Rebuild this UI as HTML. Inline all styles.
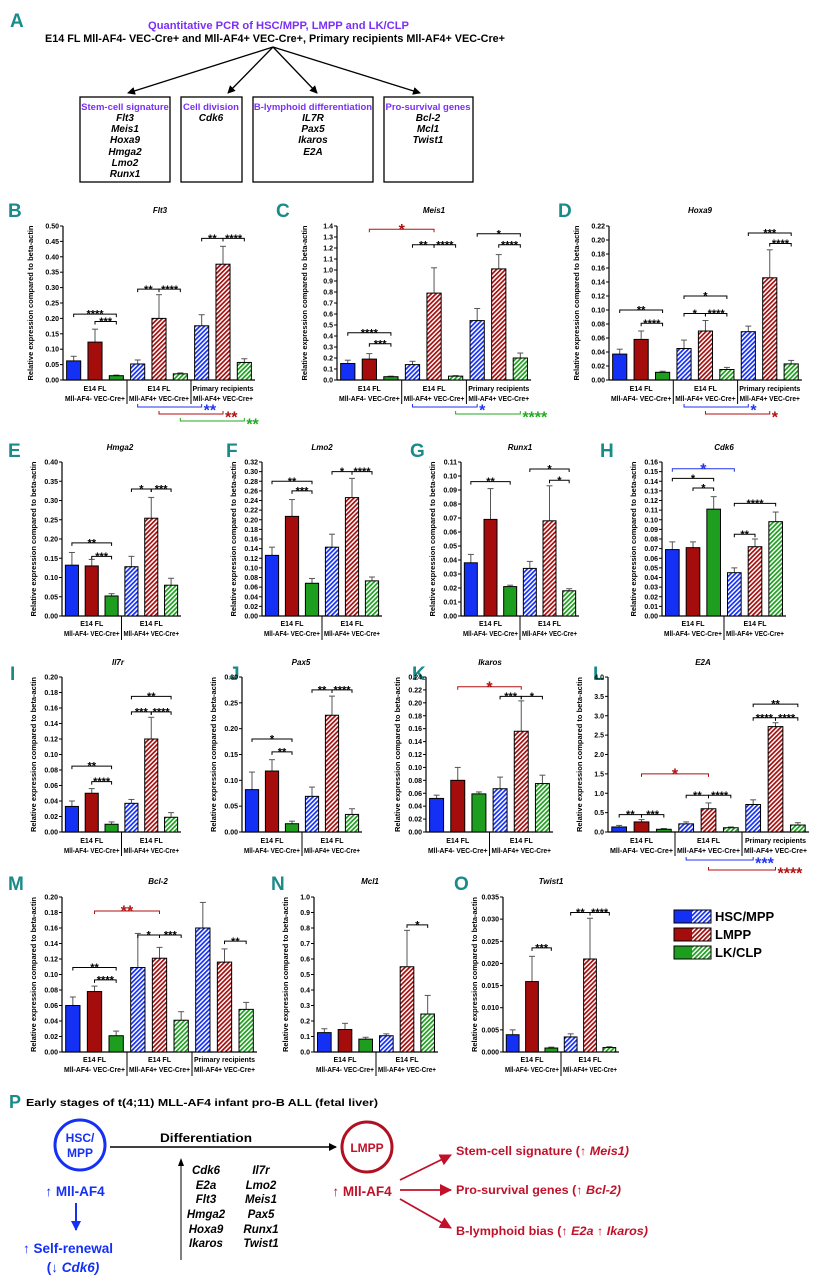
<!DOCTYPE html>
<html><head><meta charset="utf-8"><title>Mll-AF4 qPCR figure</title>
<style>
html,body{margin:0;padding:0;background:#fff;}
svg{display:block;font-family:"Liberation Sans Narrow","Liberation Sans",sans-serif;}
</style></head>
<body>
<svg id="fig" width="822" height="1280" viewBox="0 0 822 1280">
<defs>
<pattern id="hb" width="3.2" height="3.2" patternUnits="userSpaceOnUse" patternTransform="rotate(45)"><rect width="3.2" height="3.2" fill="#fff"/><rect width="1.7" height="3.2" fill="#1530f5"/></pattern>
<pattern id="hr" width="3.2" height="3.2" patternUnits="userSpaceOnUse" patternTransform="rotate(45)"><rect width="3.2" height="3.2" fill="#fff"/><rect width="1.7" height="3.2" fill="#a50d0d"/></pattern>
<pattern id="hg" width="3.2" height="3.2" patternUnits="userSpaceOnUse" patternTransform="rotate(45)"><rect width="3.2" height="3.2" fill="#fff"/><rect width="1.7" height="3.2" fill="#1e9e1e"/></pattern>
<marker id="ak" markerWidth="8" markerHeight="8" refX="7" refY="4" orient="auto" markerUnits="userSpaceOnUse"><path d="M0,0 L8,4 L0,8 z" fill="#000"/></marker>
<marker id="ab" markerWidth="10" markerHeight="10" refX="9" refY="5" orient="auto" markerUnits="userSpaceOnUse"><path d="M0,0 L10,5 L0,10 z" fill="#1530f5"/></marker>
<marker id="ar" markerWidth="12" markerHeight="12" refX="11" refY="6" orient="auto" markerUnits="userSpaceOnUse"><path d="M0,0 L12,6 L0,12 z" fill="#c0102a"/></marker>
</defs>

<!-- Panel A -->
<g font-weight="bold">
<text x="10" y="27" font-size="19" fill="#1a8a8a">A</text>
<text x="148" y="29" font-size="11" fill="#7b2ff7" textLength="261" lengthAdjust="spacingAndGlyphs">Quantitative PCR of HSC/MPP, LMPP and LK/CLP</text>
<text x="45" y="42" font-size="11" fill="#000" textLength="460" lengthAdjust="spacingAndGlyphs">E14 FL Mll-AF4- VEC-Cre+ and Mll-AF4+ VEC-Cre+, Primary recipients Mll-AF4+ VEC-Cre+</text>
<g stroke="#000" stroke-width="1.3">
<line x1="273" y1="47" x2="128" y2="93" marker-end="url(#ak)"/>
<line x1="273" y1="47" x2="228" y2="93" marker-end="url(#ak)"/>
<line x1="273" y1="47" x2="317" y2="93" marker-end="url(#ak)"/>
<line x1="273" y1="47" x2="420" y2="93" marker-end="url(#ak)"/>
</g>
<g fill="none" stroke="#000" stroke-width="1.3">
<rect x="80" y="97" width="90" height="85"/>
<rect x="181" y="97" width="61" height="85"/>
<rect x="253" y="97" width="120" height="85"/>
<rect x="384" y="97" width="89" height="85"/>
</g>
<g font-size="9.5" text-anchor="middle">
<text x="125" y="110" fill="#7b2ff7">Stem-cell signature</text>
<text x="211" y="110" fill="#7b2ff7">Cell division</text>
<text x="313" y="110" fill="#7b2ff7">B-lymphoid differentiation</text>
<text x="428" y="110" fill="#7b2ff7">Pro-survival genes</text>
<g font-style="italic" font-size="10">
<text x="125" y="121">Flt3</text><text x="125" y="132">Meis1</text><text x="125" y="143">Hoxa9</text><text x="125" y="155">Hmga2</text><text x="125" y="166">Lmo2</text><text x="125" y="177">Runx1</text>
<text x="211" y="121">Cdk6</text>
<text x="313" y="121">IL7R</text><text x="313" y="132">Pax5</text><text x="313" y="143">Ikaros</text><text x="313" y="155">E2A</text>
<text x="428" y="121">Bcl-2</text><text x="428" y="132">Mcl1</text><text x="428" y="143">Twist1</text>
</g></g>
</g>

<!-- Legend -->
<g font-weight="bold" font-size="13">
<g><rect x="674" y="910" width="18" height="13" fill="#1530f5"/><rect x="692" y="910" width="19" height="13" fill="url(#hb)"/><rect x="674" y="910" width="37" height="13" fill="none" stroke="#000"/><text x="715" y="921">HSC/MPP</text></g>
<g><rect x="674" y="928" width="18" height="13" fill="#a50d0d"/><rect x="692" y="928" width="19" height="13" fill="url(#hr)"/><rect x="674" y="928" width="37" height="13" fill="none" stroke="#000"/><text x="715" y="939">LMPP</text></g>
<g><rect x="674" y="946" width="18" height="13" fill="#1e9e1e"/><rect x="692" y="946" width="19" height="13" fill="url(#hg)"/><rect x="674" y="946" width="37" height="13" fill="none" stroke="#000"/><text x="715" y="957">LK/CLP</text></g>
</g>

<!-- Panel P -->
<g font-weight="bold">
<text x="9" y="1108" font-size="18" fill="#1a8a8a">P</text>
<text x="26" y="1106" font-size="10.5" textLength="352" lengthAdjust="spacingAndGlyphs">Early stages of t(4;11) MLL-AF4 infant pro-B ALL (fetal liver)</text>
<circle cx="80" cy="1145" r="25" fill="none" stroke="#1530f5" stroke-width="3"/>
<text x="80" y="1142" font-size="12" fill="#1530f5" text-anchor="middle">HSC/</text>
<text x="80" y="1157" font-size="12" fill="#1530f5" text-anchor="middle">MPP</text>
<line x1="110" y1="1147" x2="336" y2="1147" stroke="#000" stroke-width="1.5" marker-end="url(#ak)"/>
<text x="160" y="1142" font-size="12" textLength="92" lengthAdjust="spacingAndGlyphs">Differentiation</text>
<g>
<line x1="181" y1="1260" x2="181" y2="1164" stroke="#000" stroke-width="1"/>
<path d="M178,1166 L181,1158 L184,1166 z" fill="#000"/>
</g>
<g font-size="11.5" font-style="italic" text-anchor="middle">
<text x="206" y="1174">Cdk6</text><text x="206" y="1189">E2a</text><text x="206" y="1203">Flt3</text><text x="206" y="1218">Hmga2</text><text x="206" y="1233">Hoxa9</text><text x="206" y="1247">Ikaros</text>
<text x="261" y="1174">Il7r</text><text x="261" y="1189">Lmo2</text><text x="261" y="1203">Meis1</text><text x="261" y="1218">Pax5</text><text x="261" y="1233">Runx1</text><text x="261" y="1247">Twist1</text>
</g>
<circle cx="367" cy="1147" r="25" fill="none" stroke="#b01020" stroke-width="3"/>
<text x="367" y="1152" font-size="12" fill="#c0102a" text-anchor="middle">LMPP</text>
<text x="75" y="1196" font-size="13.5" fill="#1530f5" text-anchor="middle">↑ Mll-AF4</text>
<line x1="76" y1="1203" x2="76" y2="1230" stroke="#1530f5" stroke-width="2" marker-end="url(#ab)"/>
<text x="68" y="1253" font-size="13.5" fill="#1530f5" text-anchor="middle">↑ Self-renewal</text>
<text x="73" y="1272" font-size="13.5" fill="#1530f5" text-anchor="middle">(↓ <tspan font-style="italic">Cdk6)</tspan></text>
<text x="362" y="1196" font-size="13.5" fill="#c0102a" text-anchor="middle">↑ Mll-AF4</text>
<g stroke="#c0102a" stroke-width="1.8">
<line x1="400" y1="1180" x2="451" y2="1155" marker-end="url(#ar)"/>
<line x1="400" y1="1190" x2="451" y2="1190" marker-end="url(#ar)"/>
<line x1="400" y1="1199" x2="451" y2="1228" marker-end="url(#ar)"/>
</g>
<g font-size="12" fill="#c0102a">
<text x="456" y="1155" textLength="173" lengthAdjust="spacingAndGlyphs">Stem-cell signature (↑ <tspan font-style="italic">Meis1)</tspan></text>
<text x="456" y="1194" textLength="165" lengthAdjust="spacingAndGlyphs">Pro-survival genes (↑ <tspan font-style="italic">Bcl-2)</tspan></text>
<text x="456" y="1235" textLength="192" lengthAdjust="spacingAndGlyphs">B-lymphoid bias (↑ <tspan font-style="italic">E2a</tspan> ↑ <tspan font-style="italic">Ikaros)</tspan></text>
</g>
</g>
</svg>

<script>
// ---- group labels ----
const groupLine1 = ['E14 FL', 'E14 FL', 'Primary recipients'];
const groupLine2 = ['Mll-AF4- VEC-Cre+', 'Mll-AF4+ VEC-Cre+', 'Mll-AF4+ VEC-Cre+'];
const cellTypes = ['HSC/MPP', 'LMPP', 'LK/CLP'];

// ---- data: [bars g1 HSC,LMPP,LK, g2 ..., g3 ...] ----
const flt3Values = [0.062, 0.123, 0.014, 0.052, 0.200, 0.020, 0.176, 0.376, 0.057];
const flt3Errors = [0.015, 0.042, 0.002, 0.013, 0.077, 0.003, 0.036, 0.058, 0.012];
const flt3Sig = [[0, 2, 0.214, '****', 'k'], [1, 2, 0.19, '***', 'k'], [3, 4, 0.295, '**', 'k'], [4, 5, 0.295, '****', 'k'], [6, 7, 0.46, '**', 'k'], [7, 8, 0.46, '****', 'k']];
const flt3Bottom = [[3, 6, 0, '**', 'b'], [4, 7, 1, '**', 'r'], [5, 8, 2, '**', 'g']];

const meis1Values = [0.15, 0.19, 0.03, 0.14, 0.79, 0.035, 0.54, 1.01, 0.20];
const meis1Errors = [0.03, 0.05, 0.005, 0.03, 0.23, 0.005, 0.11, 0.13, 0.045];
const meis1Sig = [[1, 4, 1.37, '*', 'r'], [0, 2, 0.43, '****', 'k'], [1, 2, 0.33, '***', 'k'], [3, 4, 1.23, '**', 'k'], [4, 5, 1.23, '****', 'k'], [6, 8, 1.33, '*', 'k'], [7, 8, 1.23, '****', 'k']];
const meis1Bottom = [[3, 6, 0, '*', 'b'], [5, 8, 1, '****', 'g']];

const hoxa9Values = [0.037, 0.058, 0.011, 0.045, 0.070, 0.015, 0.069, 0.146, 0.023];
const hoxa9Errors = [0.007, 0.012, 0.0015, 0.012, 0.015, 0.003, 0.008, 0.04, 0.005];
const hoxa9Sig = [[0, 2, 0.10, '**', 'k'], [1, 2, 0.081, '****', 'k'], [3, 5, 0.12, '*', 'k'], [3, 4, 0.095, '*', 'k'], [4, 5, 0.095, '****', 'k'], [6, 8, 0.21, '***', 'k'], [7, 8, 0.195, '****', 'k']];
const hoxa9Bottom = [[3, 6, 0, '*', 'b'], [4, 7, 1, '*', 'r']];

const hmga2Values = [0.132, 0.130, 0.052, 0.128, 0.254, 0.080];
const hmga2Errors = [0.033, 0.017, 0.006, 0.027, 0.054, 0.018];
const hmga2Sig = [[0, 2, 0.19, '**', 'k'], [1, 2, 0.155, '***', 'k'], [3, 4, 0.33, '*', 'k'], [4, 5, 0.33, '***', 'k']];

const lmo2Values = [0.126, 0.207, 0.068, 0.143, 0.246, 0.073];
const lmo2Errors = [0.017, 0.035, 0.010, 0.027, 0.040, 0.008];
const lmo2Sig = [[0, 2, 0.28, '**', 'k'], [1, 2, 0.26, '***', 'k'], [3, 4, 0.30, '*', 'k'], [4, 5, 0.30, '****', 'k']];

const runx1Values = [0.038, 0.069, 0.021, 0.034, 0.068, 0.018];
const runx1Errors = [0.006, 0.022, 0.001, 0.005, 0.025, 0.0015];
const runx1Sig = [[0, 2, 0.096, '**', 'k'], [3, 5, 0.105, '*', 'k'], [4, 5, 0.097, '*', 'k']];

const cdk6Values = [0.069, 0.071, 0.111, 0.045, 0.072, 0.098];
const cdk6Errors = [0.008, 0.006, 0.013, 0.005, 0.008, 0.010];
const cdk6Sig = [[0, 3, 0.153, '*', 'b'], [0, 2, 0.143, '*', 'k'], [1, 2, 0.133, '*', 'k'], [3, 5, 0.117, '****', 'k'], [3, 4, 0.085, '**', 'k']];

const il7rValues = [0.033, 0.050, 0.010, 0.037, 0.120, 0.019];
const il7rErrors = [0.007, 0.006, 0.003, 0.005, 0.028, 0.006];
const il7rSig = [[0, 2, 0.085, '**', 'k'], [1, 2, 0.065, '****', 'k'], [3, 5, 0.175, '**', 'k'], [3, 4, 0.155, '***', 'k'], [4, 5, 0.155, '****', 'k']];

const pax5Values = [0.082, 0.118, 0.016, 0.069, 0.226, 0.034];
const pax5Errors = [0.034, 0.022, 0.005, 0.018, 0.037, 0.011];
const pax5Sig = [[0, 2, 0.18, '*', 'k'], [1, 2, 0.155, '**', 'k'], [3, 4, 0.275, '**', 'k'], [4, 5, 0.275, '****', 'k']];

const ikarosValues = [0.052, 0.080, 0.059, 0.067, 0.156, 0.075];
const ikarosErrors = [0.005, 0.020, 0.003, 0.018, 0.047, 0.013];
const ikarosSig = [[1, 4, 0.225, '*', 'r'], [3, 4, 0.21, '***', 'k'], [4, 5, 0.21, '*', 'k']];

const e2aValues = [0.13, 0.26, 0.07, 0.21, 0.60, 0.11, 0.71, 2.72, 0.18];
const e2aErrors = [0.04, 0.06, 0.02, 0.05, 0.15, 0.02, 0.12, 0.10, 0.06];
const e2aSig = [[1, 4, 1.5, '*', 'r'], [0, 1, 0.45, '**', 'k'], [1, 2, 0.45, '***', 'k'], [3, 4, 0.95, '**', 'k'], [4, 5, 0.95, '****', 'k'], [6, 8, 3.3, '**', 'k'], [6, 7, 2.95, '****', 'k'], [7, 8, 2.95, '****', 'k']];
const e2aBottom = [[3, 6, 0, '***', 'b'], [4, 7, 1, '****', 'r']];

const bcl2Values = [0.060, 0.078, 0.021, 0.109, 0.121, 0.041, 0.160, 0.116, 0.055];
const bcl2Errors = [0.011, 0.007, 0.006, 0.044, 0.014, 0.011, 0.033, 0.017, 0.009];
const bcl2Sig = [[1, 4, 0.182, '**', 'r'], [0, 2, 0.109, '**', 'k'], [1, 2, 0.093, '****', 'k'], [3, 4, 0.151, '*', 'k'], [4, 5, 0.151, '***', 'k'], [7, 8, 0.143, '**', 'k']];

const mcl1Values = [0.125, 0.145, 0.083, 0.105, 0.55, 0.245];
const mcl1Errors = [0.025, 0.04, 0.012, 0.012, 0.235, 0.12];
const mcl1Sig = [[4, 5, 0.82, '*', 'k']];

const twist1Values = [0.0039, 0.0159, 0.0009, 0.0034, 0.0210, 0.0010];
const twist1Errors = [0.0011, 0.0057, 0.0002, 0.0007, 0.0092, 0.0002];
const twist1Sig = [[1, 2, 0.0235, '***', 'k'], [3, 4, 0.0315, '**', 'k'], [4, 5, 0.0315, '****', 'k']];

// ---- rendering ----
const NS = 'http://www.w3.org/2000/svg';
const svg = document.getElementById('fig');
function mk(tag, parent, attrs) {
  const e = document.createElementNS(NS, tag);
  for (const k in attrs) e.setAttribute(k, attrs[k]);
  parent.appendChild(e);
  return e;
}
const SOLID = ['#1530f5', '#a50d0d', '#1e9e1e'];
const HATCH = ['url(#hb)', 'url(#hr)', 'url(#hg)'];
const SIGC = { k: '#000', b: '#2233ee', r: '#b01010', g: '#22aa22' };

function drawChart(c) {
  const g = mk('g', svg, { 'font-weight': 'bold' });
  
  
  const nG = c.values.length / 3;
  const yS = v => c.yBot - v / c.max * (c.yBot - c.yTop);
  const bs = c.gw / 3;
  const xS = i => c.x0 + Math.floor(i / 3) * c.gw + (i % 3 + 0.5) * bs;
  const bw = c.gw * 0.22;
  const xEnd = c.x0 + nG * c.gw;

  const lt = mk('text', g, { x: c.lx, y: c.ly, 'font-size': 19, fill: '#1a8a8a' });
  lt.textContent = c.letter;
  
  
  const tt = mk('text', g, { x: c.tx, y: c.ty, 'font-size': 8, 'font-style': 'italic', 'text-anchor': 'middle' });
  tt.textContent = c.title;
  
  

  const ya = mk('line', g, { x1: c.x0, y1: c.yTop, x2: c.x0, y2: c.yBot, stroke: '#000', 'stroke-width': 1.2 });
  
  
  const nT = Math.round(c.max / c.step);
  for (let k = 0; k <= nT; k++) {
    const v = k * c.step, y = yS(v);
    mk('line', g, { x1: c.x0 - 3, y1: y, x2: c.x0, y2: y, stroke: '#000', 'stroke-width': 1 });
    const t = mk('text', g, { x: c.x0 - 4, y: y + 2.5, 'font-size': 7, 'text-anchor': 'end' });
    t.textContent = v.toFixed(c.dec);
    
    
  }
  const ym = (c.yTop + c.yBot) / 2;
  const yt = mk('text', g, { x: c.x0 - c.yl, y: ym, 'font-size': 7.5, 'text-anchor': 'middle', transform: 'rotate(-90 ' + (c.x0 - c.yl) + ' ' + ym + ')' });
  yt.textContent = 'Relative expression compared to beta-actin';
  
  

  const xa = mk('line', g, { x1: c.x0, y1: c.yBot, x2: xEnd, y2: c.yBot, stroke: '#000', 'stroke-width': 1.2 });
  
  
  for (let j = 0; j < nG; j++) {
    if (j > 0) mk('line', g, { x1: c.x0 + j * c.gw, y1: c.yBot, x2: c.x0 + j * c.gw, y2: c.yBot + 24, stroke: '#000', 'stroke-width': 1 });
    const cx = c.x0 + (j + 0.5) * c.gw;
    const t1 = mk('text', g, { x: cx, y: c.gy, 'font-size': 7, 'text-anchor': 'middle' });
    t1.textContent = groupLine1[j];
    
    
    const t2 = mk('text', g, { x: cx, y: c.gy + 10, 'font-size': 7, 'text-anchor': 'middle', textLength: c.gw - 4, lengthAdjust: 'spacingAndGlyphs' });
    t2.textContent = groupLine2[j];
    
    
  }

  c.values.forEach((v, i) => {
    const x = xS(i), ci = i % 3, gi = Math.floor(i / 3);
    const top = yS(v + c.errors[i]);
    mk('line', g, { x1: x, y1: yS(v), x2: x, y2: top, stroke: '#555', 'stroke-width': 1 });
    mk('line', g, { x1: x - 3, y1: top, x2: x + 3, y2: top, stroke: '#555', 'stroke-width': 1 });
    const r = mk('rect', g, { x: x - bw / 2, y: yS(v), width: bw, height: c.yBot - yS(v), fill: gi === 0 ? SOLID[ci] : HATCH[ci], stroke: '#000', 'stroke-width': 1 });
    
    
  });

  c.sig.forEach(s => {
    const x1 = xS(s[0]), x2 = xS(s[1]), y = yS(s[2]), col = SIGC[s[4]];
    const big = s[4] !== 'k';
    const p = mk('path', g, { d: 'M' + x1 + ',' + (y + 3) + 'V' + y + 'H' + x2 + 'V' + (y + 3), fill: 'none', stroke: col, 'stroke-width': 1 });
    
    
    const fs = big ? 16 : 11;
    const t = mk('text', g, { x: (x1 + x2) / 2, y: y - 1 + 0.42 * fs, 'font-size': fs, fill: col, 'text-anchor': 'middle', 'font-family': 'Liberation Sans, sans-serif' });
    t.textContent = s[3];
    
    
  });
  (c.bottom || []).forEach(s => {
    const x1 = xS(s[0]), x2 = xS(s[1]), y = c.yBot + c.bOff + s[2] * c.bStep, col = SIGC[s[4]];
    const p = mk('path', g, { d: 'M' + x1 + ',' + (y - 3) + 'V' + y + 'H' + x2 + 'V' + (y - 3), fill: 'none', stroke: col, 'stroke-width': 1 });
    
    
    const t = mk('text', g, { x: x2 + 2, y: y + 0.58 * 16 - 1, 'font-size': 16, fill: col, 'font-family': 'Liberation Sans, sans-serif' });
    t.textContent = s[3];
    
    
  });
}

const R1 = { yTop: 226, yBot: 380, gy: 391, ty: 213, ly: 217, yl: 30, bOff: 27, bStep: 7 };
const R2 = { yTop: 462, yBot: 616, gy: 626, ty: 450, ly: 457, yl: 26 };
const R3 = { yTop: 677, yBot: 832, gy: 843, ty: 665, ly: 680, yl: 26, bOff: 28, bStep: 10 };
const R4 = { yTop: 897, yBot: 1052, gy: 1062, ty: 884, ly: 890, yl: 26 };

drawChart(Object.assign({}, R1, { id: 'flt3', letter: 'B', title: 'Flt3', x0: 63, gw: 64, max: 0.5, step: 0.05, dec: 2, lx: 8, tx: 160, values: flt3Values, errors: flt3Errors, sig: flt3Sig, bottom: flt3Bottom }));
drawChart(Object.assign({}, R1, { id: 'meis1', letter: 'C', title: 'Meis1', x0: 337, gw: 64.7, max: 1.4, step: 0.1, dec: 1, lx: 276, tx: 434, values: meis1Values, errors: meis1Errors, sig: meis1Sig, bottom: meis1Bottom }));
drawChart(Object.assign({}, R1, { id: 'hoxa9', letter: 'D', title: 'Hoxa9', x0: 609, gw: 64.3, max: 0.22, step: 0.02, dec: 2, lx: 558, tx: 700, values: hoxa9Values, errors: hoxa9Errors, sig: hoxa9Sig, bottom: hoxa9Bottom }));

drawChart(Object.assign({}, R2, { id: 'hmga2', letter: 'E', title: 'Hmga2', x0: 62, gw: 59.5, max: 0.4, step: 0.05, dec: 2, lx: 8, tx: 120, values: hmga2Values, errors: hmga2Errors, sig: hmga2Sig }));
drawChart(Object.assign({}, R2, { id: 'lmo2', letter: 'F', title: 'Lmo2', x0: 262, gw: 60, max: 0.32, step: 0.02, dec: 2, lx: 226, tx: 322, values: lmo2Values, errors: lmo2Errors, sig: lmo2Sig }));
drawChart(Object.assign({}, R2, { id: 'runx1', letter: 'G', title: 'Runx1', x0: 461, gw: 59, max: 0.11, step: 0.01, dec: 2, lx: 410, tx: 520, values: runx1Values, errors: runx1Errors, sig: runx1Sig }));
drawChart(Object.assign({}, R2, { id: 'cdk6', letter: 'H', title: 'Cdk6', x0: 662, gw: 62, max: 0.16, step: 0.01, dec: 2, lx: 600, tx: 724, values: cdk6Values, errors: cdk6Errors, sig: cdk6Sig }));

drawChart(Object.assign({}, R3, { id: 'il7r', letter: 'I', title: 'Il7r', x0: 62, gw: 59.5, max: 0.2, step: 0.02, dec: 2, lx: 10, tx: 118, values: il7rValues, errors: il7rErrors, sig: il7rSig }));
drawChart(Object.assign({}, R3, { id: 'pax5', letter: 'J', title: 'Pax5', x0: 242, gw: 60, max: 0.3, step: 0.05, dec: 2, lx: 229, tx: 301, values: pax5Values, errors: pax5Errors, sig: pax5Sig }));
drawChart(Object.assign({}, R3, { id: 'ikaros', letter: 'K', title: 'Ikaros', x0: 426, gw: 63.5, max: 0.24, step: 0.02, dec: 2, lx: 412, tx: 490, values: ikarosValues, errors: ikarosErrors, sig: ikarosSig }));
drawChart(Object.assign({}, R3, { id: 'e2a', letter: 'L', title: 'E2A', x0: 608, gw: 67, max: 4.0, step: 0.5, dec: 1, lx: 593, tx: 703, values: e2aValues, errors: e2aErrors, sig: e2aSig, bottom: e2aBottom }));

drawChart(Object.assign({}, R4, { id: 'bcl2', letter: 'M', title: 'Bcl-2', x0: 62, gw: 65, max: 0.2, step: 0.02, dec: 2, lx: 8, tx: 158, values: bcl2Values, errors: bcl2Errors, sig: bcl2Sig }));
drawChart(Object.assign({}, R4, { id: 'mcl1', letter: 'N', title: 'Mcl1', x0: 314, gw: 62, max: 1.0, step: 0.1, dec: 1, lx: 271, tx: 370, values: mcl1Values, errors: mcl1Errors, sig: mcl1Sig }));
drawChart(Object.assign({}, R4, { id: 'twist1', letter: 'O', title: 'Twist1', x0: 503, gw: 58, max: 0.035, step: 0.005, dec: 3, lx: 454, tx: 551, values: twist1Values, errors: twist1Errors, sig: twist1Sig }));
</script>
</body></html>
